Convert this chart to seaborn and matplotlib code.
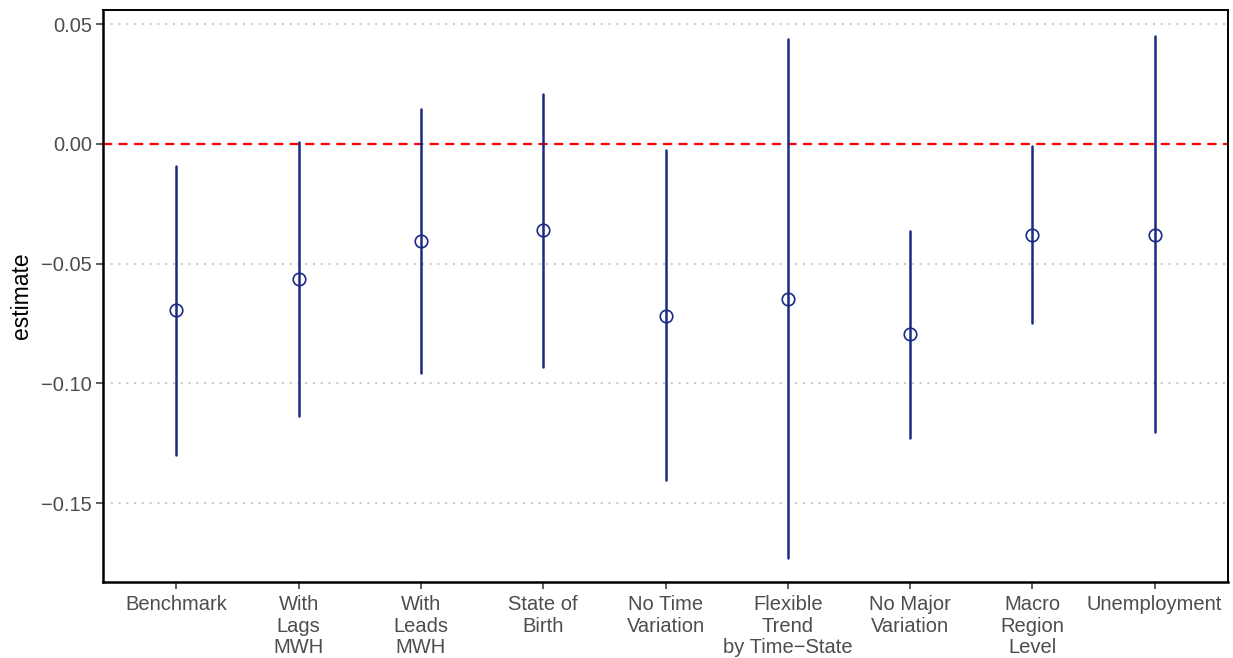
import matplotlib
matplotlib.use("Agg")
import matplotlib.pyplot as plt
import seaborn as sns
import pandas as pd

categories = ["Benchmark", "With\nLags\nMWH", "With\nLeads\nMWH", "State of\nBirth",
              "No Time\nVariation", "Flexible\nTrend\nby Time\u2212State",
              "No Major\nVariation", "Macro\nRegion\nLevel", "Unemployment"]
estimate = [-0.0693, -0.0564, -0.0405, -0.0359, -0.0718, -0.0647, -0.0793, -0.0380, -0.0380]
conf_low = [-0.1300, -0.1136, -0.0956, -0.0931, -0.1403, -0.1729, -0.1228, -0.0747, -0.1203]
conf_high = [-0.0092, 0.0008, 0.0146, 0.0209, -0.0025, 0.0438, -0.0363, -0.0008, 0.0451]
y_ticks = [0.05, 0.00, -0.05, -0.10, -0.15]

sns.set_theme(style="white")
plt.rcParams['font.family'] = ['Liberation Sans', 'DejaVu Sans']

rows = []
for c, lo, e, hi in zip(categories, conf_low, estimate, conf_high):
    for v in (lo, e, hi):
        rows.append({"term": c, "value": v})
df = pd.DataFrame(rows)

navy = "#1B2A84"
fig = plt.figure(figsize=(12.33, 6.58), dpi=100)
ax = fig.add_axes([103/1233, 1-582/658, (1228-103)/1233, (582-10)/658])

for t in y_ticks:
    ax.axhline(t, color="#C8C8C8", linestyle=(0, (1, 3)), linewidth=1.4, zorder=0)
ax.axhline(0, color="#FF0000", linestyle=(0, (4, 3)), linewidth=1.6, zorder=1)

sns.pointplot(data=df, x="term", y="value", order=categories, estimator="median",
              errorbar=("pi", 100), linestyle="none", marker="o", color=navy,
              markersize=9, markerfacecolor="none", markeredgewidth=1.2,
              err_kws={"linewidth": 1.8}, capsize=0, ax=ax)

ax.set_xlim(-0.6, len(categories) - 0.4)
ax.set_ylim(-0.1829, 0.0559)
ax.set_yticks(y_ticks)
ax.set_yticklabels([f"{t:.2f}".replace("-", "\u2212") for t in y_ticks])
ax.set_xlabel("")
ax.set_ylabel("estimate", fontsize=16.5, color="black", labelpad=6)
ax.tick_params(axis="both", which="major", labelsize=14.5, labelcolor="#4D4D4D",
               color="#333333", length=5, width=1.1, bottom=True, left=True, pad=3)
ax.tick_params(axis="x", pad=4.5)
for lab in ax.get_xticklabels():
    lab.set_linespacing(1.17)
for side, sp in ax.spines.items():
    sp.set_color("black")
    sp.set_visible(True)
    sp.set_linewidth(1.8 if side in ("left", "bottom") else 1.4)
ax.grid(False)

fig.savefig("out.png", dpi=100)
